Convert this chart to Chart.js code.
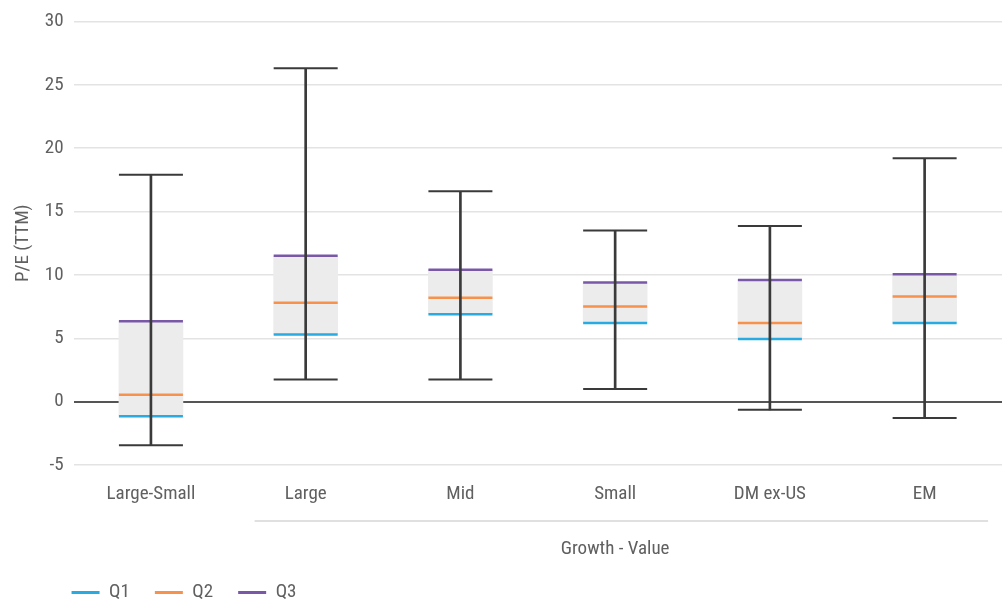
<!DOCTYPE html>
<html>
<head>
<meta charset="utf-8">
<title>P/E (TTM) - Growth - Value</title>
<script src="https://cdn.jsdelivr.net/npm/chart.js@4.4.1/dist/chart.umd.min.js"></script>
<style>
    html, body { margin: 0; padding: 0; background: #fff; }
    #wrap { width: 1003px; height: 604px; }
</style>
</head>
<body>
<div id="wrap"><canvas id="peChart" width="1003" height="604"></canvas></div>
<script>
// Values
const categories = ['Large-Small', 'Large', 'Mid', 'Small', 'DM ex-US', 'EM'];
const minValues = [-3.45, 1.75, 1.75, 1.0, -0.65, -1.3];
const q1Values = [-1.15, 5.3, 6.9, 6.2, 4.95, 6.2];
const q2Values = [0.55, 7.8, 8.2, 7.5, 6.2, 8.3];
const q3Values = [6.35, 11.5, 10.4, 9.4, 9.6, 10.05];
const maxValues = [17.9, 26.3, 16.6, 13.5, 13.85, 19.2];
const yTicks = [-5, 0, 5, 10, 15, 20, 25, 30];
const quartileLabels = ['Q1', 'Q2', 'Q3'];
const yTitle = 'P/E (TTM)';
const groupTitle = 'Growth - Value';
const groupFrom = 1;
const groupTo = 5;

const textColor = '#606060';
const fontFamily = "'Roboto Condensed', 'DejaVu Sans Condensed', sans-serif";
Chart.defaults.font.family = fontFamily;
Chart.defaults.font.size = 19;
Chart.defaults.color = textColor;

// "Growth - Value" bracket under the last five categories
const groupLabel = {
    id: 'groupLabel',
    afterDraw(chart) {
        const x = chart.scales.x;
        const step = x.getPixelForValue(1) - x.getPixelForValue(0);
        const left = x.getPixelForValue(groupFrom) - step * 0.33;
        const right = x.getPixelForValue(groupTo) + step * 0.41;
        const ctx = chart.ctx;
        ctx.save();
        ctx.strokeStyle = '#e0e0e0';
        ctx.lineWidth = 2;
        ctx.beginPath();
        ctx.moveTo(left, x.top + 56);
        ctx.lineTo(right, x.top + 56);
        ctx.stroke();
        ctx.fillStyle = textColor;
        ctx.font = '19px ' + fontFamily;
        ctx.textAlign = 'center';
        ctx.textBaseline = 'middle';
        const mid = (x.getPixelForValue(groupFrom) + x.getPixelForValue(groupTo)) / 2;
        ctx.fillText(groupTitle, mid, x.top + 84);
        ctx.restore();
    }
};

// legend sits a little right of the canvas edge
const legendPlace = {
    id: 'legendPlace',
    afterLayout(chart) {
        chart.legend.left = chart.chartArea.left - 27;
        chart.legend.top = chart.height - 46;
    }
};

const boxes = q1Values.map((q, i) => [q, q3Values[i]]);
const whiskers = minValues.map((m, i) => [m, maxValues[i]]);

function quartileSet(label, data, color) {
    return {
        type: 'line',
        label: label,
        data: data,
        showLine: false,
        pointStyle: 'line',
        pointRadius: 32,
        borderColor: color,
        backgroundColor: color,
        borderWidth: 2.5,
        order: 3
    };
}

function capSet(data) {
    return {
        type: 'line',
        label: 'cap',
        data: data,
        showLine: false,
        pointStyle: 'line',
        pointRadius: 32,
        borderColor: '#3a3a3a',
        borderWidth: 2,
        order: 1
    };
}

new Chart(document.getElementById('peChart').getContext('2d'), {
    type: 'bar',
    data: {
        labels: categories,
        datasets: [
            {
                label: 'box',
                data: boxes,
                backgroundColor: '#ececec',
                barThickness: 64,
                grouped: false,
                order: 6
            },
            quartileSet('Q1', q1Values, '#29abe2'),
            quartileSet('Q2', q2Values, '#f7914b'),
            quartileSet('Q3', q3Values, '#7a58a8'),
            {
                label: 'whisker',
                data: whiskers,
                backgroundColor: '#3a3a3a',
                barThickness: 2,
                grouped: false,
                order: 2
            },
            capSet(minValues),
            capSet(maxValues)
        ]
    },
    options: {
        responsive: false,
        animation: false,
        events: [],
        layout: { autoPadding: false, padding: { top: 7, right: 1 } },
        plugins: {
            tooltip: { enabled: false },
            legend: {
                position: 'bottom',
                align: 'start',
                labels: {
                    boxWidth: 28,
                    boxHeight: 3,
                    padding: 25,
                    color: textColor,
                    generateLabels: chart => chart.data.datasets
                        .map((ds, i) => ({ ds, i }))
                        .filter(o => quartileLabels.includes(o.ds.label))
                        .map(o => ({
                            text: o.ds.label,
                            fillStyle: o.ds.borderColor,
                            strokeStyle: o.ds.borderColor,
                            lineWidth: 0,
                            fontColor: textColor,
                            datasetIndex: o.i
                        }))
                }
            }
        },
        scales: {
            x: {
                grid: { display: false },
                border: { display: false },
                ticks: { padding: 10, color: textColor },
                afterFit: scale => { scale.height = 85; }
            },
            y: {
                min: yTicks[0],
                max: yTicks[yTicks.length - 1],
                ticks: { stepSize: yTicks[1] - yTicks[0], padding: 10, color: textColor },
                border: { display: false },
                grid: {
                    drawTicks: false,
                    color: ctx => ctx.tick.value === 0 ? '#555555' : '#e3e3e3',
                    lineWidth: ctx => ctx.tick.value === 0 ? 2 : 1.5
                },
                title: {
                    display: true,
                    text: yTitle,
                    color: textColor,
                    padding: { top: 12, bottom: 0 }
                }
            }
        }
    },
    plugins: [groupLabel, legendPlace]
});
</script>
</body>
</html>
